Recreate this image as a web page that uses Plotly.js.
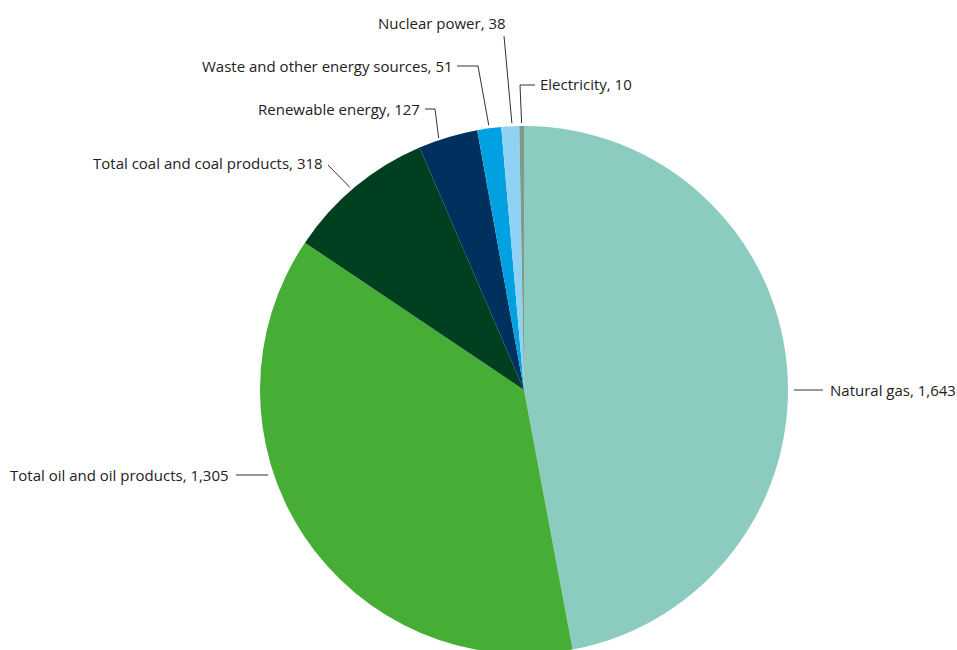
<!DOCTYPE html>
<html>
<head>
<meta charset="utf-8">
<script src="https://cdn.plot.ly/plotly-3.0.1.min.js"></script>
<style>
html,body{margin:0;padding:0;overflow:hidden;background:#fff;}
#chart{width:957px;height:660px;}
</style>
</head>
<body>
<div id="chart"></div>
<script>
// ---- data ----
const categories = ["Natural gas", "Total oil and oil products", "Total coal and coal products",
  "Renewable energy", "Waste and other energy sources", "Nuclear power", "Electricity"];
const values = [1643, 1305, 318, 127, 51, 38, 10];
const colors = ["#8ccbc0", "#46ad35", "#003f1f", "#00305e", "#00a0e1", "#8fd2f4", "#7f9c8a"];

// ---- layout constants (pixels) ----
const W = 957, H = 660;
const CX = 524, CY = 390, R = 264;
// label layout: fraction within slice, radial offset, elbow points, text anchor
const labelLayout = [
  {f: 0.5,   dr: 6,  pts: [[823, 390]], tx: 828, ty: 390, xa: "left", horiz: true},
  {f: 0.61,  dr: 6,  pts: [[236, 475]], tx: 231, ty: 475, xa: "right", horiz: true},
  {f: 0.47,  dr: 3,  pts: [[328, 165]], tx: 325, ty: 163, xa: "right"},
  {f: 0.35,  dr: 2,  pts: [[435, 109], [425, 109]], tx: 422, ty: 109, xa: "right"},
  {f: 0.5,   dr: 3,  pts: [[478, 66], [457, 66]], tx: 455, ty: 66, xa: "right"},
  {f: 0.6,   dr: 3,  pts: [[504, 36]], tx: 508, ty: 23, xa: "right"},
  {f: 0.5,   dr: 3,  pts: [[520, 85], [535, 85]], tx: 538, ty: 84, xa: "left"}
];

function fmt(v) { return v.toLocaleString("en-US"); }
const px = x => x / W, py = y => 1 - y / H;

const total = values.reduce((a, b) => a + b, 0);
let cum = 0;
const shapes = [], annotations = [];
values.forEach((v, i) => {
  const a0 = cum / total * 360, a1 = (cum + v) / total * 360;
  cum += v;
  const L = labelLayout[i];
  let sx, sy;
  if (L.horiz) {
    // horizontal leader at the label's height, starting just outside the slice edge
    const dy = L.pts[0][1] - CY;
    const half = Math.sqrt(R * R - dy * dy) + L.dr;
    sx = L.xa === "left" ? CX + half : CX - half;
    sy = L.pts[0][1];
  } else {
    const ang = (a0 + (a1 - a0) * L.f) * Math.PI / 180;
    const rr = R + L.dr;
    sx = CX + rr * Math.sin(ang); sy = CY - rr * Math.cos(ang);
  }
  let path = "M" + px(sx) + "," + py(sy);
  L.pts.forEach(p => { path += " L" + px(p[0]) + "," + py(p[1]); });
  shapes.push({type: "path", xref: "paper", yref: "paper", path: path,
    line: {color: "#333333", width: 1}});
  annotations.push({xref: "paper", yref: "paper", x: px(L.tx), y: py(L.ty),
    xanchor: L.xa, yanchor: "middle", showarrow: false,
    text: categories[i] + ", " + fmt(v),
    font: {family: "Open Sans, sans-serif", size: 15, color: "#222222"}});
});

const trace = {
  type: "pie",
  labels: categories,
  values: values,
  sort: false,
  direction: "clockwise",
  rotation: 0,
  textinfo: "none",
  hoverinfo: "label+value",
  marker: {colors: colors, line: {width: 0}},
  domain: {x: [(CX - R) / W, (CX + R) / W], y: [1 - (CY + R) / H, 1 - (CY - R) / H]}
};

const layout = {
  width: W, height: H,
  margin: {l: 0, r: 0, t: 0, b: 0},
  showlegend: false,
  paper_bgcolor: "#ffffff",
  shapes: shapes,
  annotations: annotations
};

Plotly.newPlot("chart", [trace], layout, {displayModeBar: false, staticPlot: true});
</script>
</body>
</html>
